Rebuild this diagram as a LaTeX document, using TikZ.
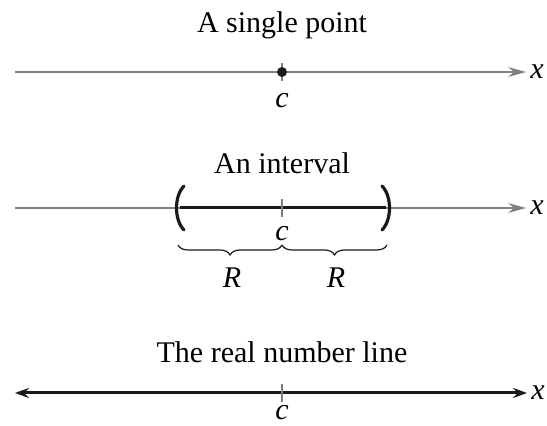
\documentclass[tikz,border=0pt]{standalone}
\usepackage{fontspec}
\setmainfont{Liberation Serif}
\usepackage{tikz}
\usetikzlibrary{arrows.meta,positioning,decorations.pathreplacing}
\definecolor{axisgray}{HTML}{808080}
\definecolor{inkblack}{HTML}{1A1A1A}

\begin{document}
\begin{tikzpicture}[
  x=0.5pt,y=-0.5pt,
  every node/.style={font=\fontsize{15}{18}\selectfont,inner sep=0pt},
  axis/.style={draw=axisgray,line width=0.6pt,-{Stealth[length=9pt,width=5pt,inset=3pt,fill=axisgray]}},
  realline/.style={draw=inkblack,line width=1.5pt,{Stealth[length=7pt,width=5pt,inset=2.5pt]}-{Stealth[length=7pt,width=5pt,inset=2.5pt]}},
  tickm/.style={draw=axisgray,line width=0.6pt},
  paren/.style={draw=inkblack,line width=1.6pt,line cap=round},
  rbrace/.style={draw=inkblack,line width=0.6pt,decorate,decoration={brace,mirror,amplitude=5pt}}
]
\useasboundingbox (0,0) rectangle (547,426);

% a single point
\node (t1) at (282,25) {A single point};
\coordinate (l1) at (15,72);
\coordinate (r1) at (526,72);
\coordinate (c1) at (282,72);
\draw[axis] (l1) -- (r1);
\node[right=2pt of r1] (x1) {\textit{x}};
\draw[tickm] (c1) ++(0,-9) -- ++(0,18);
\fill[inkblack] (c1) circle[radius=5];
\node (lc1) at (282,101) {\textit{c}};

% an interval
\node (t2) at (282,163) {An interval};
\coordinate (l2) at (15,208);
\coordinate (r2) at (526,208);
\coordinate (c2) at (282,208);
\coordinate (a2) at (180,208);
\coordinate (b2) at (386,208);
\draw[axis] (l2) -- (r2);
\node[right=2pt of r2] (x2) {\textit{x}};
\draw[inkblack,line width=1.5pt] (a2) -- (b2);
\draw[tickm] (c2) ++(0,-9) -- ++(0,18);
\draw[paren] (a2) ++(4,-22) .. controls +(-10,10) and +(-10,-10) .. ++(0,44);
\draw[paren] (b2) ++(-4,-22) .. controls +(10,10) and +(10,-10) .. ++(0,44);
\node (lc2) at (282,234) {\textit{c}};
\coordinate (ba) at (178,245);
\coordinate (bc) at (282,245);
\coordinate (bb) at (387,245);
\draw[rbrace] (ba) -- (bc);
\draw[rbrace] (bc) -- (bb);
\node (R1) at (232,278) {\textit{R}};
\node (R2) at (336,278) {\textit{R}};

% the real number line
\node (t3) at (282,352) {The real number line};
\coordinate (l3) at (15,393);
\coordinate (r3) at (527,393);
\coordinate (c3) at (282,393);
\draw[realline] (l3) -- (r3);
\node[right=2pt of r3] (x3) {\textit{x}};
\draw[tickm] (c3) ++(0,-9) -- ++(0,18);
\node (lc3) at (282,413) {\textit{c}};
\end{tikzpicture}
\end{document}
